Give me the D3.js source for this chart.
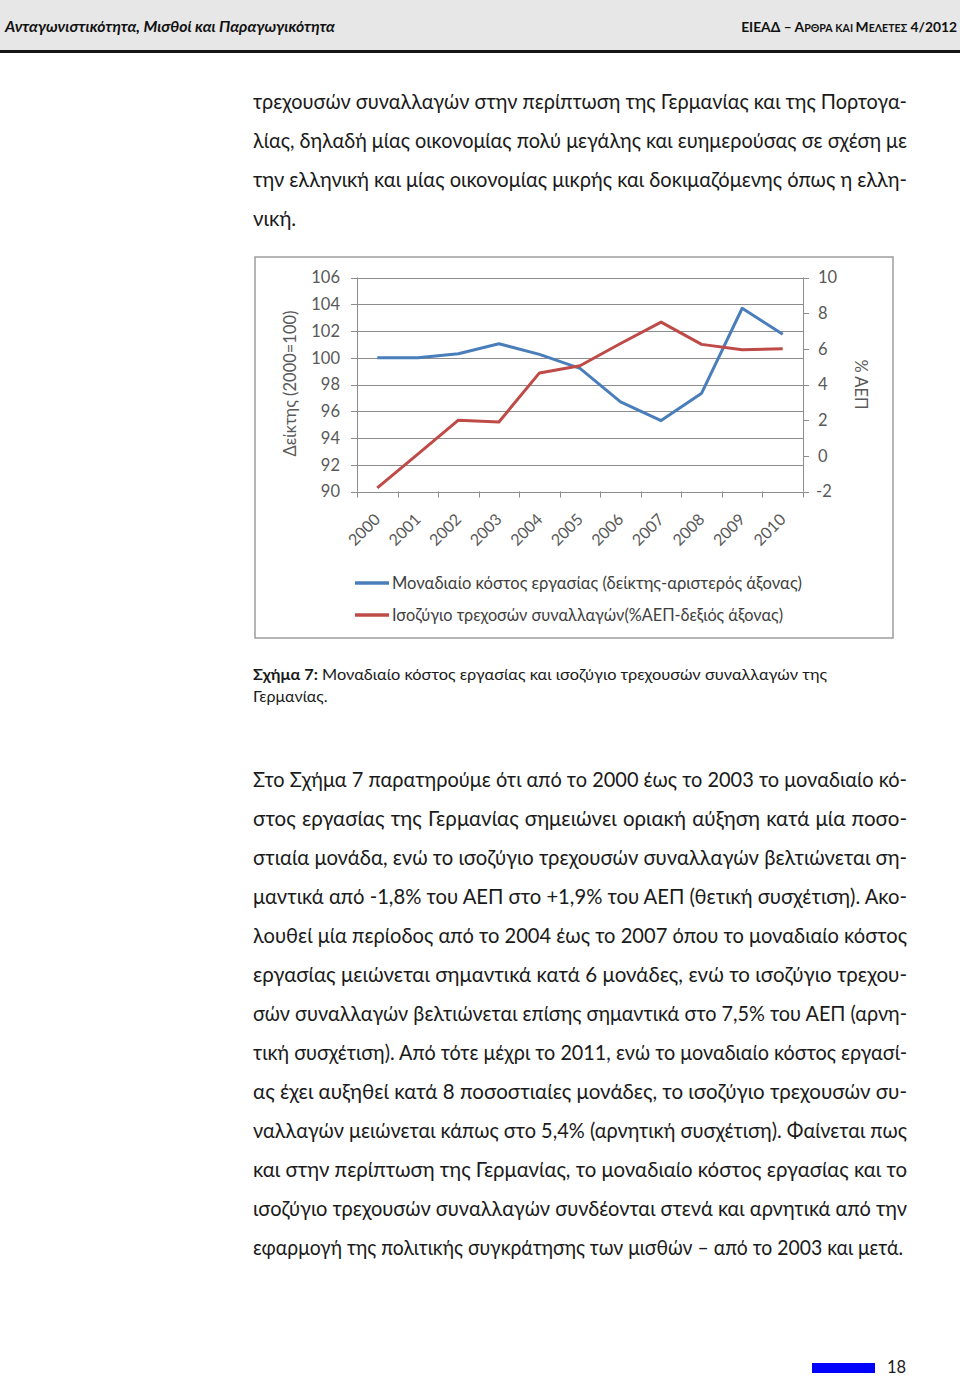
<!DOCTYPE html>
<html><head><meta charset="utf-8">
<script src="https://cdn.jsdelivr.net/npm/d3@7"></script>
<style>
html,body{margin:0;padding:0;background:#fff;}
svg{display:block;}
text{font-family:Lato,"Noto Sans","Open Sans",sans-serif;}
</style></head>
<body>
<svg id="page" width="960" height="1377"></svg>
<script>
// ---- Data ----
const years = ["2000","2001","2002","2003","2004","2005","2006","2007","2008","2009","2010"];
const unitLabourCost = [100, 100, 100.3, 101.05, 100.25, 99.2, 96.7, 95.3, 97.35, 103.7, 101.75];
const currentAccount = [-1.8, 0.1, 2.0, 1.9, 4.65, 5.05, 6.3, 7.5, 6.25, 5.95, 6.0];
const leftTicks = [90, 92, 94, 96, 98, 100, 102, 104, 106];
const rightTicks = [-2, 0, 2, 4, 6, 8, 10];
const seriesNames = ["Μοναδιαίο κόστος εργασίας (δείκτης-αριστερός άξονας)",
                     "Ισοζύγιο τρεχοσών συναλλαγών(%ΑΕΠ-δεξιός άξονας)"];
const seriesColors = ["#4a7ebb", "#be4b48"];
const leftTitle = "Δείκτης (2000=100)";
const rightTitle = "% ΑΕΠ";

const headerLeft = "Ανταγωνιστικότητα, Μισθοί και Παραγωγικότητα";
const para1 = [
 "τρεχουσών συναλλαγών στην περίπτωση της Γερμανίας και της Πορτογα-",
 "λίας, δηλαδή μίας οικονομίας πολύ μεγάλης και ευημερούσας σε σχέση με",
 "την ελληνική και μίας οικονομίας μικρής και δοκιμαζόμενης όπως η ελλη-",
 "νική."
];
const para2 = [
 "Στο Σχήμα 7 παρατηρούμε ότι από το 2000 έως το 2003 το μοναδιαίο κό-",
 "στος εργασίας της Γερμανίας σημειώνει οριακή αύξηση κατά μία ποσο-",
 "στιαία μονάδα, ενώ το ισοζύγιο τρεχουσών συναλλαγών βελτιώνεται ση-",
 "μαντικά από -1,8% του ΑΕΠ στο +1,9% του ΑΕΠ (θετική συσχέτιση). Ακο-",
 "λουθεί μία περίοδος από το 2004 έως το 2007 όπου το μοναδιαίο κόστος",
 "εργασίας μειώνεται σημαντικά κατά 6 μονάδες, ενώ το ισοζύγιο τρεχου-",
 "σών συναλλαγών βελτιώνεται επίσης σημαντικά στο 7,5% του ΑΕΠ (αρνη-",
 "τική συσχέτιση). Από τότε μέχρι το 2011, ενώ το μοναδιαίο κόστος εργασί-",
 "ας έχει αυξηθεί κατά 8 ποσοστιαίες μονάδες, το ισοζύγιο τρεχουσών συ-",
 "ναλλαγών μειώνεται κάπως στο 5,4% (αρνητική συσχέτιση). Φαίνεται πως",
 "και στην περίπτωση της Γερμανίας, το μοναδιαίο κόστος εργασίας και το",
 "ισοζύγιο τρεχουσών συναλλαγών συνδέονται στενά και αρνητικά από την",
 "εφαρμογή της πολιτικής συγκράτησης των μισθών – από το 2003 και μετά."
];

const svg = d3.select("#page");

// helper: justify a text element to a target width
function justify(t, target, allowStretch) {
  const node = t.node();
  const w = node.getComputedTextLength();
  const str = node.textContent;
  const spaces = (str.match(/ /g) || []).length;
  if (w < target && allowStretch && spaces > 0) {
    t.attr("word-spacing", ((target - w) / spaces).toFixed(3));
  } else if (w > target) {
    t.attr("textLength", target).attr("lengthAdjust", "spacingAndGlyphs");
  }
}
function fitWidth(t, target) {
  t.attr("textLength", target).attr("lengthAdjust", "spacingAndGlyphs");
}

// ---- Header ----
svg.append("rect").attr("x",0).attr("y",0).attr("width",960).attr("height",50).attr("fill","#e7e7e7");
svg.append("rect").attr("x",0).attr("y",50).attr("width",960).attr("height",3).attr("fill","#151515");
const hl = svg.append("text").attr("x",5).attr("y",32).attr("font-size",16)
  .attr("font-weight","bold").attr("font-style","italic").attr("fill","#111").text(headerLeft);
fitWidth(hl, 330);
const hr = svg.append("text").attr("x",957).attr("y",32).attr("text-anchor","end")
  .attr("font-weight","bold").attr("fill","#111");
const hrParts = [["ΕΙΕΑΔ – Α",15],["ΡΘΡΑ ΚΑΙ ",11.5],["Μ",15],["ΕΛΕΤΕΣ",11.5],[" 4/2012",15]];
const hrSpans = hrParts.map(([s,fs]) => hr.append("tspan").attr("font-size",fs).text(s));
{
  const w = hr.node().getComputedTextLength();
  if (w > 216) {
    const k = 216 / w;
    hrSpans.forEach((sp, i) => sp.attr("font-size", (hrParts[i][1] * k).toFixed(2)));
  }
}

// ---- Body text ----
const bodyX = 253, bodyW = 654, bodyFS = 20.5;
para1.forEach((line, i) => {
  const t = svg.append("text").attr("x", bodyX).attr("y", 109 + i*39)
    .attr("font-size", bodyFS).attr("fill","#1a1a1a").text(line);
  justify(t, bodyW, i < para1.length - 1);
});
para2.forEach((line, i) => {
  const t = svg.append("text").attr("x", bodyX).attr("y", 787 + i*39)
    .attr("font-size", bodyFS).attr("fill","#1a1a1a").text(line);
  justify(t, i < para2.length - 1 ? bodyW : 650, true);
});

// caption
const cap = svg.append("text").attr("x",253).attr("y",680).attr("font-size",16).attr("fill","#1a1a1a");
cap.append("tspan").attr("font-weight","bold").text("Σχήμα 7:");
cap.append("tspan").text(" Μοναδιαίο κόστος εργασίας και ισοζύγιο τρεχουσών συναλλαγών της");
fitWidth(cap, 574);
svg.append("text").attr("x",253).attr("y",702).attr("font-size",16).attr("fill","#1a1a1a").text("Γερμανίας.");

// page number
svg.append("rect").attr("x",812).attr("y",1363).attr("width",63).attr("height",10).attr("fill","#0000ff");
svg.append("text").attr("x",887).attr("y",1373).attr("font-size",16.5).attr("fill","#1a1a1a").text("18");

// ---- Chart ----
const frame = {x:255, y:257, w:638, h:381};
svg.append("rect").attr("x",frame.x).attr("y",frame.y).attr("width",frame.w).attr("height",frame.h)
  .attr("fill","#fff").attr("stroke","#9d9d9d").attr("stroke-width",1.5);

const plot = {left:357, right:803, top:277.5, bottom:491.5};
const x = d3.scaleBand().domain(years).range([plot.left, plot.right]);
const yL = d3.scaleLinear().domain([90,106]).range([plot.bottom, plot.top]);
const yR = d3.scaleLinear().domain([-2,10]).range([plot.bottom, plot.top]);
const g = svg.append("g");
const gridColor = "#8c8c8c", labColor = "#595959";

// gridlines (left axis)
g.selectAll(".grid").data(leftTicks).join("line")
  .attr("x1", plot.left - 6).attr("x2", plot.right)
  .attr("y1", d => Math.round(yL(d)) + 0.5).attr("y2", d => Math.round(yL(d)) + 0.5)
  .attr("stroke", gridColor).attr("stroke-width", 1);
g.selectAll(".ll").data(leftTicks).join("text")
  .attr("x", 340).attr("y", d => yL(d)).attr("dy","0.35em").attr("text-anchor","end")
  .attr("font-size", 16.5).attr("fill", labColor).text(d => d);

// left axis line
g.append("line").attr("x1",plot.left+0.5).attr("x2",plot.left+0.5).attr("y1",plot.top).attr("y2",plot.bottom)
  .attr("stroke",gridColor);
// right axis line + ticks
g.append("line").attr("x1",plot.right+0.5).attr("x2",plot.right+0.5).attr("y1",plot.top).attr("y2",plot.bottom)
  .attr("stroke",gridColor);
g.selectAll(".rt").data(rightTicks).join("line")
  .attr("x1", plot.right).attr("x2", plot.right + 6)
  .attr("y1", d => Math.round(yR(d)) + 0.5).attr("y2", d => Math.round(yR(d)) + 0.5)
  .attr("stroke", gridColor);
g.selectAll(".rl").data(rightTicks).join("text")
  .attr("x", d => d < 0 ? 816 : 818).attr("y", d => yR(d)).attr("dy","0.35em")
  .attr("font-size", 16.5).attr("fill", labColor).text(d => d);

// x axis ticks at band boundaries
const boundaries = years.map(yy => x(yy)).concat([x(years[years.length-1]) + x.bandwidth()]);
g.selectAll(".xt").data(boundaries).join("line")
  .attr("x1", d => Math.round(d) + 0.5).attr("x2", d => Math.round(d) + 0.5)
  .attr("y1", plot.bottom).attr("y2", plot.bottom + 6).attr("stroke", gridColor);
g.selectAll(".xl").data(years).join("text")
  .attr("transform", d => `translate(${x(d) + x.bandwidth()/2 + 4},${plot.bottom + 29}) rotate(-45)`)
  .attr("text-anchor","end").attr("font-size", 16).attr("fill", labColor).text(d => d);

// axis titles
g.append("text").attr("transform", `translate(296,${(plot.top+plot.bottom)/2 - 1}) rotate(-90)`)
  .attr("text-anchor","middle").attr("font-size",16.5).attr("fill",labColor).text(leftTitle);
g.append("text").attr("transform", `translate(855,${(plot.top+plot.bottom)/2}) rotate(90)`)
  .attr("text-anchor","middle").attr("font-size",16.5).attr("fill",labColor).text(rightTitle);

// lines
const cx = d => x(d) + x.bandwidth()/2;
const lineL = d3.line().x((v,i) => cx(years[i])).y(v => yL(v));
const lineR = d3.line().x((v,i) => cx(years[i])).y(v => yR(v));
g.append("path").attr("d", lineL(unitLabourCost)).attr("fill","none")
  .attr("stroke", seriesColors[0]).attr("stroke-width", 3).attr("stroke-linejoin","round");
g.append("path").attr("d", lineR(currentAccount)).attr("fill","none")
  .attr("stroke", seriesColors[1]).attr("stroke-width", 3).attr("stroke-linejoin","round");

// legend
const legW = [410, 391];
seriesNames.forEach((name, i) => {
  const ly = 583 + i*32;
  g.append("line").attr("x1",355).attr("x2",389).attr("y1",ly).attr("y2",ly)
    .attr("stroke", seriesColors[i]).attr("stroke-width", 3.5);
  const t = g.append("text").attr("x",392).attr("y",ly).attr("dy","0.35em")
    .attr("font-size",17).attr("fill","#404040").text(name);
  fitWidth(t, legW[i]);
});
</script>
</body></html>
